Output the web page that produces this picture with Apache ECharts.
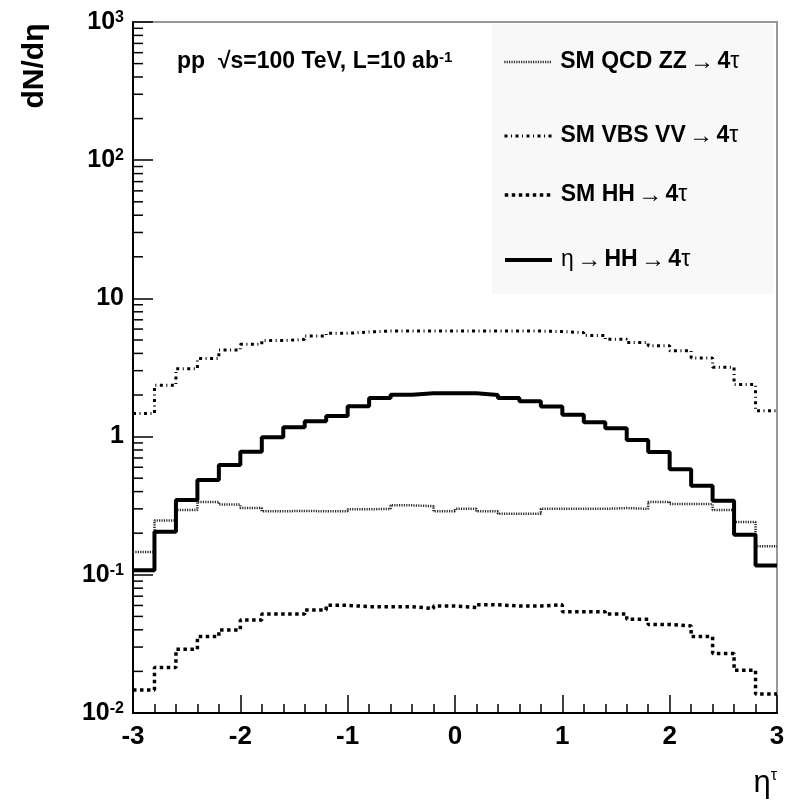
<!DOCTYPE html>
<html>
<head>
<meta charset="utf-8">
<script src="https://cdn.jsdelivr.net/npm/echarts@6/dist/echarts.min.js"></script>
<style>html,body{margin:0;padding:0;background:#fff}#c{width:792px;height:800px}</style>
</head>
<body>
<div id="c"></div>
<script>
// ---- data ----
const binEdges = [-3, -2.8, -2.6, -2.4, -2.2, -2, -1.8, -1.6, -1.4, -1.2, -1, -0.8, -0.6, -0.4, -0.2, 0,
  0.2, 0.4, 0.6, 0.8, 1, 1.2, 1.4, 1.6, 1.8, 2, 2.2, 2.4, 2.6, 2.8, 3];
const seriesNames = ['SM QCD ZZ → 4τ', 'SM VBS VV → 4τ', 'SM HH → 4τ', 'η → HH → 4τ'];
const qcdZZ = [0.146, 0.247, 0.294, 0.337, 0.322, 0.304, 0.288, 0.290, 0.288, 0.288, 0.298, 0.300, 0.318, 0.314, 0.288,
  0.300, 0.288, 0.276, 0.276, 0.300, 0.300, 0.300, 0.304, 0.300, 0.337, 0.325, 0.325, 0.294, 0.241, 0.161];
const vbsVV = [1.47, 2.35, 3.10, 3.67, 4.23, 4.65, 4.95, 5.06, 5.35, 5.59, 5.72, 5.80, 5.80, 5.80, 5.80,
  5.80, 5.80, 5.80, 5.80, 5.75, 5.65, 5.40, 5.06, 4.80, 4.55, 4.18, 3.71, 3.17, 2.38, 1.54];
const smHH = [0.0147, 0.0213, 0.0289, 0.0357, 0.0399, 0.0471, 0.0520, 0.0520, 0.0556, 0.0601, 0.0588, 0.0588, 0.0588, 0.0570, 0.0595,
  0.0580, 0.0606, 0.0595, 0.0595, 0.0606, 0.0540, 0.0540, 0.0520, 0.0477, 0.0437, 0.0427, 0.0357, 0.0270, 0.0204, 0.0137];
const etaHH = [0.108, 0.205, 0.348, 0.485, 0.623, 0.778, 0.990, 1.17, 1.29, 1.41, 1.66, 1.90, 2.01, 2.06, 2.06,
  2.06, 2.00, 1.90, 1.80, 1.65, 1.44, 1.27, 1.15, 0.945, 0.774, 0.580, 0.440, 0.344, 0.195, 0.117];
const xTickLabels = ['-3', '-2', '-1', '0', '1', '2', '3'];
const yTickExponents = [-2, -1, 0, 1, 2, 3];
const yTickText = ['{b|10}{s|-2}', '{b|10}{s|-1}', '{b|1}', '{b|10}', '{b|10}{s|2}', '{b|10}{s|3}'];
const yMinorTicks = [0.02, 0.03, 0.04, 0.05, 0.06, 0.07, 0.08, 0.09,
  0.2, 0.3, 0.4, 0.5, 0.6, 0.7, 0.8, 0.9,
  2, 3, 4, 5, 6, 7, 8, 9,
  20, 30, 40, 50, 60, 70, 80, 90,
  200, 300, 400, 500, 600, 700, 800, 900];

// ---- build ----
const FONT = 'Liberation Sans';
function hist(vals) {
  return binEdges.map((e, i) => [e, vals[Math.min(i, vals.length - 1)]]);
}
const styles = [
  { color: '#2a2a2a', width: 2.5, type: [1.2, 1.2] },
  { color: '#000', width: 3, type: [3, 3.5, 1, 3.5] },
  { color: '#000', width: 3.5, type: [3.5, 3.5] },
  { color: '#000', width: 4, type: 'solid' }
];
const vals = [qcdZZ, vbsVV, smHH, etaHH];
const lineSeries = seriesNames.map((n, i) => ({
  type: 'line', name: n, step: 'end', symbol: 'none', symbolSize: 0, data: hist(vals[i]),
  lineStyle: styles[i], itemStyle: { color: styles[i].color }, z: 3 + i, animation: false
}));
const legendTops = [63, 137, 196, 261];
const legends = seriesNames.map((n, i) => ({
  data: [n], left: 503, top: legendTops[i] - 13, padding: 0,
  itemWidth: 47, itemHeight: 14, itemGap: 0,
  itemStyle: { color: 'rgba(0,0,0,0)', borderWidth: 0, opacity: 0 },
  lineStyle: { color: styles[i].color, width: styles[i].width, type: styles[i].type },
  formatter: name => name.startsWith('η') ? '{r|η} {a|→} {t|HH} {a|→} {t|4}{r|τ}' :
    '{t|' + name.replace(' → 4τ', '') + '} {a|→} {t|4}{r|τ}',
  textStyle: {
    padding: [0, 0, 0, 4],
    rich: {
      t: { fontFamily: FONT, fontSize: 23, fontWeight: 'bold', color: '#000' },
      r: { fontFamily: FONT, fontSize: 23, color: '#000' },
      a: { fontFamily: FONT, fontSize: 24, color: '#000' }
    }
  }
}));

const chart = echarts.init(document.getElementById('c'), null, { renderer: 'canvas' });
chart.setOption({
  animation: false,
  backgroundColor: '#fff',
  grid: { left: 133, right: 15, top: 22, bottom: 87, show: true, borderColor: '#999', borderWidth: 2, backgroundColor: 'transparent' },
  legend: legends,
  xAxis: {
    type: 'value', min: -3, max: 3, interval: 1,
    axisLine: { onZero: false, lineStyle: { color: '#000', width: 2 } },
    axisTick: { inside: true, length: 18, lineStyle: { color: '#000', width: 1.5 } },
    minorTick: { show: true, splitNumber: 5, length: 9, lineStyle: { color: '#000', width: 1.5 } },
    splitLine: { show: false },
    axisLabel: {
      margin: 11, fontFamily: FONT, fontSize: 26, fontWeight: 'bold', color: '#000',
      formatter: v => xTickLabels[Math.round(v) + 3]
    }
  },
  yAxis: {
    type: 'log', logBase: 10, min: 0.01, max: 1000, splitNumber: 5,
    axisLine: { onZero: false, lineStyle: { color: '#000', width: 2 } },
    axisTick: { inside: true, length: 20, lineStyle: { color: '#000', width: 1.5 } },
    splitLine: { show: false },
    axisLabel: {
      margin: 9, color: '#000',
      formatter: v => yTickText[yTickExponents.indexOf(Math.round(Math.log10(v)))],
      rich: {
        b: { fontFamily: FONT, fontSize: 25, fontWeight: 'bold', color: '#000' },
        s: { fontFamily: FONT, fontSize: 16, fontWeight: 'bold', color: '#000', verticalAlign: 'top' }
      }
    }
  },
  graphic: [
    { type: 'rect', z: -10, shape: { x: 492, y: 24, width: 282, height: 270 }, style: { fill: '#f8f8f8' } },
    {
      type: 'text', left: 177, top: 50, z: 10,
      style: {
        text: '{t|pp  √s=100 TeV, L=10 ab}{s|-1}',
        rich: {
          t: { fontFamily: FONT, fontSize: 23, fontWeight: 'bold', fill: '#000' },
          s: { fontFamily: FONT, fontSize: 15, fontWeight: 'bold', fill: '#000', verticalAlign: 'top' }
        }
      }
    },
    {
      type: 'text', x: 35, y: 66, rotation: Math.PI / 2, z: 10,
      style: { text: 'dN/dη', fontFamily: FONT, fontSize: 30, fontWeight: 'bold', fill: '#000', align: 'center', verticalAlign: 'middle' }
    },
    {
      type: 'text', right: 15, top: 768, z: 10,
      style: {
        text: '{e|η}{s|τ}',
        rich: {
          e: { fontFamily: FONT, fontSize: 31, fill: '#000' },
          s: { fontFamily: FONT, fontSize: 16, fill: '#000', verticalAlign: 'top' }
        }
      }
    }
  ],
  series: lineSeries.concat([{
    type: 'custom', silent: true, z: 10, clip: false,
    data: yMinorTicks.map(v => [-3, v]),
    renderItem: (params, api) => {
      const p = api.coord([api.value(0), api.value(1)]);
      return { type: 'line', shape: { x1: p[0], y1: p[1], x2: p[0] + 10, y2: p[1] }, style: { stroke: '#000', lineWidth: 1.5 } };
    }
  }])
});
</script>
</body>
</html>
